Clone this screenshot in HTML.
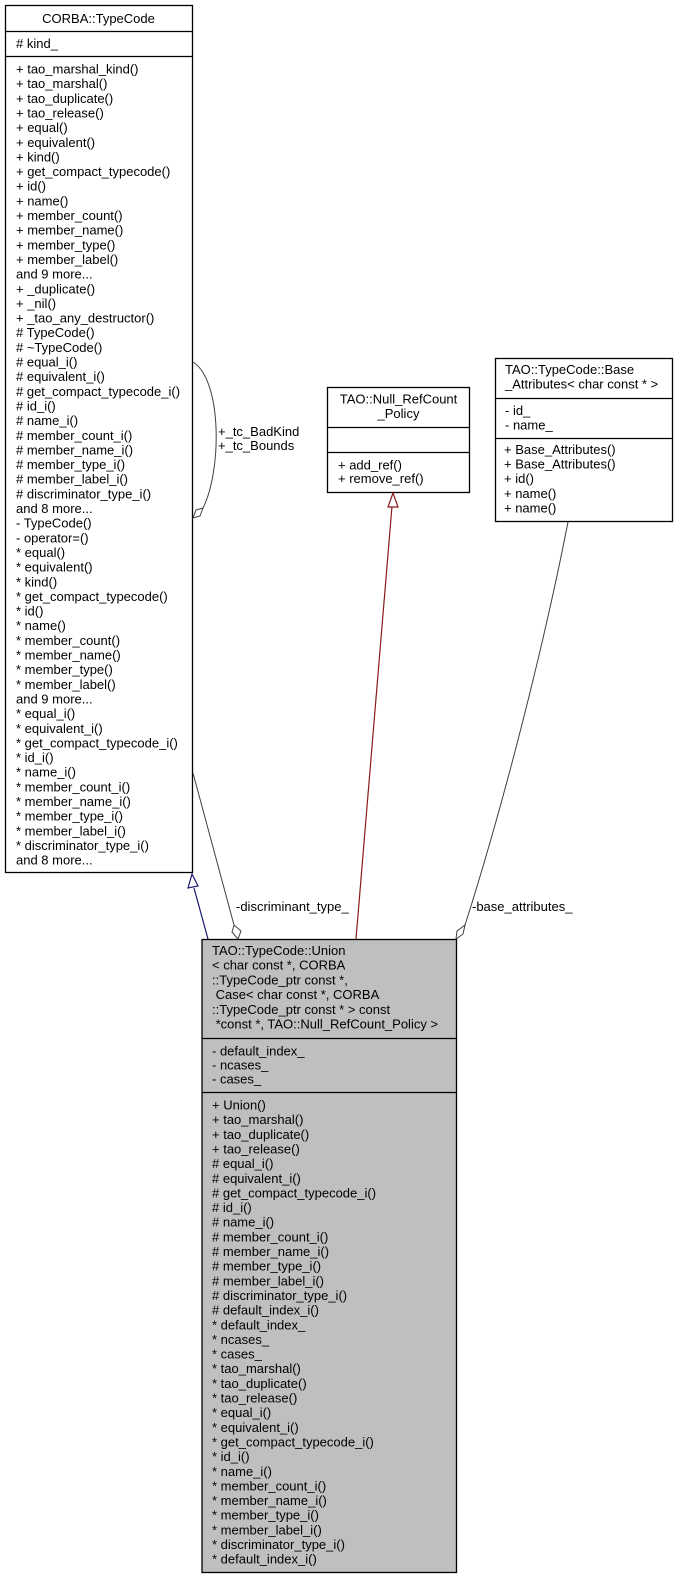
<!DOCTYPE html>
<html><head><meta charset="utf-8"><style>
html,body{margin:0;padding:0;background:#fff;}
svg{display:block;}
text{font-family:"Liberation Sans",Arial,sans-serif;font-size:13px;fill:#000;white-space:pre;}
</style></head><body>
<svg width="679" height="1579" viewBox="0 0 679 1579" xmlns="http://www.w3.org/2000/svg" xml:space="preserve">
<!-- CORBA::TypeCode -->
<rect x="5.5" y="5.5" width="187" height="867" fill="#fff" stroke="#000" stroke-width="1.3"/>
<line x1="5" y1="31.5" x2="193" y2="31.5" stroke="#000" stroke-width="1.3"/>
<line x1="5" y1="56.5" x2="193" y2="56.5" stroke="#000" stroke-width="1.3"/>
<text x="98.5" y="23" text-anchor="middle">CORBA::TypeCode</text>
<text x="16" y="48"># kind_</text>
<g id="tc">
<text x="16" y="73.5">+ tao_marshal_kind()</text>
<text x="16" y="88.15">+ tao_marshal()</text>
<text x="16" y="102.8">+ tao_duplicate()</text>
<text x="16" y="117.45">+ tao_release()</text>
<text x="16" y="132.1">+ equal()</text>
<text x="16" y="146.75">+ equivalent()</text>
<text x="16" y="161.4">+ kind()</text>
<text x="16" y="176.05">+ get_compact_typecode()</text>
<text x="16" y="190.7">+ id()</text>
<text x="16" y="205.35">+ name()</text>
<text x="16" y="220">+ member_count()</text>
<text x="16" y="234.65">+ member_name()</text>
<text x="16" y="249.3">+ member_type()</text>
<text x="16" y="263.95">+ member_label()</text>
<text x="16" y="278.6">and 9 more...</text>
<text x="16" y="293.25">+ _duplicate()</text>
<text x="16" y="307.9">+ _nil()</text>
<text x="16" y="322.55">+ _tao_any_destructor()</text>
<text x="16" y="337.2"># TypeCode()</text>
<text x="16" y="351.85"># ~TypeCode()</text>
<text x="16" y="366.5"># equal_i()</text>
<text x="16" y="381.15"># equivalent_i()</text>
<text x="16" y="395.8"># get_compact_typecode_i()</text>
<text x="16" y="410.45"># id_i()</text>
<text x="16" y="425.1"># name_i()</text>
<text x="16" y="439.75"># member_count_i()</text>
<text x="16" y="454.4"># member_name_i()</text>
<text x="16" y="469.05"># member_type_i()</text>
<text x="16" y="483.7"># member_label_i()</text>
<text x="16" y="498.35"># discriminator_type_i()</text>
<text x="16" y="513">and 8 more...</text>
<text x="16" y="527.65">- TypeCode()</text>
<text x="16" y="542.3">- operator=()</text>
<text x="16" y="556.95">* equal()</text>
<text x="16" y="571.6">* equivalent()</text>
<text x="16" y="586.25">* kind()</text>
<text x="16" y="600.9">* get_compact_typecode()</text>
<text x="16" y="615.55">* id()</text>
<text x="16" y="630.2">* name()</text>
<text x="16" y="644.85">* member_count()</text>
<text x="16" y="659.5">* member_name()</text>
<text x="16" y="674.15">* member_type()</text>
<text x="16" y="688.8">* member_label()</text>
<text x="16" y="703.45">and 9 more...</text>
<text x="16" y="718.1">* equal_i()</text>
<text x="16" y="732.75">* equivalent_i()</text>
<text x="16" y="747.4">* get_compact_typecode_i()</text>
<text x="16" y="762.05">* id_i()</text>
<text x="16" y="776.7">* name_i()</text>
<text x="16" y="791.35">* member_count_i()</text>
<text x="16" y="806">* member_name_i()</text>
<text x="16" y="820.65">* member_type_i()</text>
<text x="16" y="835.3">* member_label_i()</text>
<text x="16" y="849.95">* discriminator_type_i()</text>
<text x="16" y="864.6">and 8 more...</text>
</g>

<!-- self loop -->
<path d="M193,362 C222,380 222,470 203,508" fill="none" stroke="#404040" stroke-width="1"/>
<polygon points="203,508 200,516 193,518 196,510" fill="#fff" stroke="#404040" stroke-width="1"/>
<text x="218" y="436">+_tc_BadKind</text>
<text x="218" y="450">+_tc_Bounds</text>

<!-- Null_RefCount_Policy -->
<rect x="327.5" y="387.5" width="142" height="105" fill="#fff" stroke="#000" stroke-width="1.3"/>
<line x1="327" y1="427.5" x2="470" y2="427.5" stroke="#000" stroke-width="1.3"/>
<line x1="327" y1="452.5" x2="470" y2="452.5" stroke="#000" stroke-width="1.3"/>
<text x="398.5" y="403.5" text-anchor="middle">TAO::Null_RefCount</text>
<text x="398.5" y="418" text-anchor="middle">_Policy</text>
<text x="338" y="469.5">+ add_ref()</text>
<text x="338" y="483">+ remove_ref()</text>

<!-- Base_Attributes -->
<rect x="495.5" y="358.5" width="177" height="163" fill="#fff" stroke="#000" stroke-width="1.3"/>
<line x1="495" y1="398.5" x2="673" y2="398.5" stroke="#000" stroke-width="1.3"/>
<line x1="495" y1="438.5" x2="673" y2="438.5" stroke="#000" stroke-width="1.3"/>
<text x="505" y="374">TAO::TypeCode::Base</text>
<text x="505" y="388.5">_Attributes&lt; char const * &gt;</text>
<text x="505" y="415">- id_</text>
<text x="505" y="429.5">- name_</text>
<text x="504" y="454">+ Base_Attributes()</text>
<text x="504" y="468.6">+ Base_Attributes()</text>
<text x="504" y="483.2">+ id()</text>
<text x="504" y="497.8">+ name()</text>
<text x="504" y="512.4">+ name()</text>

<!-- Union -->
<rect x="202" y="939.5" width="254.5" height="633" fill="#bfbfbf" stroke="#000" stroke-width="1.3"/>
<line x1="202" y1="1038.5" x2="457" y2="1038.5" stroke="#000" stroke-width="1.3"/>
<line x1="202" y1="1092.5" x2="457" y2="1092.5" stroke="#000" stroke-width="1.3"/>
<text x="212" y="955">TAO::TypeCode::Union</text>
<text x="212" y="969.7">&lt; char const *, CORBA</text>
<text x="212" y="984.4">::TypeCode_ptr const *,</text>
<text x="212" y="999.1"> Case&lt; char const *, CORBA</text>
<text x="212" y="1013.8">::TypeCode_ptr const * &gt; const</text>
<text x="212" y="1028.5"> *const *, TAO::Null_RefCount_Policy &gt;</text>
<text x="212" y="1055.5">- default_index_</text>
<text x="212" y="1069.5">- ncases_</text>
<text x="212" y="1083.5">- cases_</text>
<g>
<text x="212" y="1109.5">+ Union()</text>
<text x="212" y="1124.15">+ tao_marshal()</text>
<text x="212" y="1138.8">+ tao_duplicate()</text>
<text x="212" y="1153.45">+ tao_release()</text>
<text x="212" y="1168.1"># equal_i()</text>
<text x="212" y="1182.75"># equivalent_i()</text>
<text x="212" y="1197.4"># get_compact_typecode_i()</text>
<text x="212" y="1212.05"># id_i()</text>
<text x="212" y="1226.7"># name_i()</text>
<text x="212" y="1241.35"># member_count_i()</text>
<text x="212" y="1256"># member_name_i()</text>
<text x="212" y="1270.65"># member_type_i()</text>
<text x="212" y="1285.3"># member_label_i()</text>
<text x="212" y="1299.95"># discriminator_type_i()</text>
<text x="212" y="1314.6"># default_index_i()</text>
<text x="212" y="1329.25">* default_index_</text>
<text x="212" y="1343.9">* ncases_</text>
<text x="212" y="1358.55">* cases_</text>
<text x="212" y="1373.2">* tao_marshal()</text>
<text x="212" y="1387.85">* tao_duplicate()</text>
<text x="212" y="1402.5">* tao_release()</text>
<text x="212" y="1417.15">* equal_i()</text>
<text x="212" y="1431.8">* equivalent_i()</text>
<text x="212" y="1446.45">* get_compact_typecode_i()</text>
<text x="212" y="1461.1">* id_i()</text>
<text x="212" y="1475.75">* name_i()</text>
<text x="212" y="1490.4">* member_count_i()</text>
<text x="212" y="1505.05">* member_name_i()</text>
<text x="212" y="1519.7">* member_type_i()</text>
<text x="212" y="1534.35">* member_label_i()</text>
<text x="212" y="1549">* discriminator_type_i()</text>
<text x="212" y="1563.65">* default_index_i()</text>
</g>

<!-- inheritance TypeCode (blue) -->
<line x1="208" y1="939" x2="194" y2="888" stroke="#191970" stroke-width="1.2"/>
<polygon points="192,874 188,888 198,886" fill="#fff" stroke="#191970" stroke-width="1.2"/>

<!-- discriminant_type_ -->
<line x1="193" y1="773" x2="234" y2="925" stroke="#404040" stroke-width="1"/>
<polygon points="238,939 232,932 234,925 241,931" fill="#fff" stroke="#404040" stroke-width="1"/>
<text x="236" y="911">-discriminant_type_</text>

<!-- inheritance Null_RefCount (red) -->
<line x1="356" y1="939" x2="392" y2="506" stroke="#8b1a1a" stroke-width="1.2"/>
<polygon points="393,493 388,507 398,507" fill="#fff" stroke="#8b1a1a" stroke-width="1.2"/>

<!-- base_attributes_ -->
<path d="M568,522 C545,640 505,800 465,925" fill="none" stroke="#404040" stroke-width="1"/>
<polygon points="456,939 457,931 465,925 463,934" fill="#fff" stroke="#404040" stroke-width="1"/>
<text x="472" y="911">-base_attributes_</text>
</svg>
</body></html>
